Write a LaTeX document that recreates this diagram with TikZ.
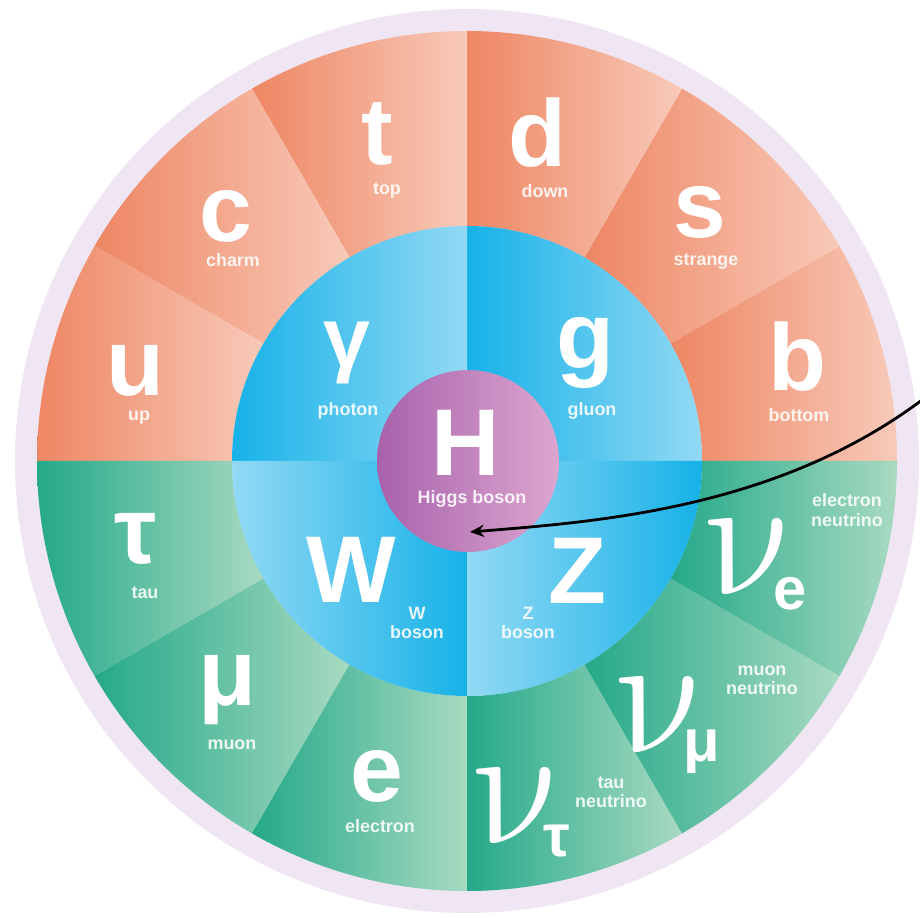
\documentclass[tikz,border=0pt]{standalone}
\usepackage{fontspec}
\usepackage{unicode-math}
\setmainfont{Liberation Sans}
\setmathfont{Latin Modern Math}
\usetikzlibrary{arrows.meta}
\definecolor{orD}{HTML}{EE8663}
\definecolor{orL}{HTML}{F8CAB9}
\definecolor{grD}{HTML}{24A989}
\definecolor{grL}{HTML}{A8DAC1}
\definecolor{blD}{HTML}{16B2E8}
\definecolor{blL}{HTML}{92D9F4}
\definecolor{puD}{HTML}{A862AC}
\definecolor{puL}{HTML}{DCA6CF}
\definecolor{lav}{HTML}{F0E6F3}
\newcommand{\nuglyph}{\scalebox{0.95}[1]{$\symup{\nu}$}}
\begin{document}
\begin{tikzpicture}[x=0.02cm,y=0.02cm,
  big/.style={text=white, font=\fontsize{54}{54}\selectfont\bfseries, inner sep=0pt},
  sub/.style={text=white, font=\fontsize{34}{34}\selectfont\bfseries, inner sep=0pt},
  nu/.style={text=white, font=\fontsize{98}{98}\selectfont, inner sep=0pt},
  lbl/.style={text=white, text opacity=0.88, font=\fontsize{10.2}{11}\selectfont\bfseries, inner sep=0pt, align=center},
  pointer/.style={line width=1.6pt, black, -{Stealth[length=8pt,width=7pt]}}]
\useasboundingbox (0,0) rectangle (920,-918);
\coordinate (C) at (467,-461);
\fill[lav] (C) circle[radius=452];
\begin{scope}[shift={(467,-461)}]
  \foreach \a in {0,30,...,150}{
    \shade[left color=orD, right color=orL] (\a:430) arc[start angle=\a, end angle=\a+30, radius=430]
      -- (\a+30:235) arc[start angle=\a+30, end angle=\a, radius=235] -- cycle;
  }
  \foreach \a in {180,210,...,330}{
    \shade[left color=grD, right color=grL] (\a:430) arc[start angle=\a, end angle=\a+30, radius=430]
      -- (\a+30:235) arc[start angle=\a+30, end angle=\a, radius=235] -- cycle;
  }
  \foreach \a in {0,90}{
    \shade[left color=blD, right color=blL] (0,0) -- (\a:235) arc[start angle=\a, end angle=\a+90, radius=235] -- cycle;
  }
  \foreach \a in {180,270}{
    \shade[left color=blL, right color=blD] (0,0) -- (\a:235) arc[start angle=\a, end angle=\a+90, radius=235] -- cycle;
  }
\end{scope}
\node[circle, minimum size=3.64cm, inner sep=0pt, left color=puD, right color=puL] (higgs) at (468,-461) {};
% quarks
\node[big] (u) at (135,-371) {u};
\node[lbl] (up) at (139,-418) {up};
\node[big] (c) at (226,-216) {c};
\node[lbl] (charm) at (233,-260) {charm};
\node[big] (t) at (377,-134) {t};
\node[lbl] (top) at (387,-191) {top};
\node[big] (d) at (537,-133) {d};
\node[lbl] (down) at (545,-191) {down};
\node[big] (s) at (700,-212) {s};
\node[lbl] (strange) at (706,-262) {strange};
\node[big] (b) at (797,-357) {b};
\node[lbl] (bottom) at (799,-415) {bottom};
% bosons
\node[big, font=\fontsize{48}{48}\selectfont\bfseries] (gam) at (347,-353) {γ};
\node[lbl] (photon) at (348,-411) {photon};
\node[big] (g) at (585,-353) {g};
\node[lbl] (gluon) at (592,-411) {gluon};
\node[big] (H) at (466,-443) {H};
\node[lbl] (hb) at (472,-499) {Higgs boson};
\node[big] (W) at (351,-570) {W};
\node[lbl] (wb) at (417,-623) {W\\boson};
\node[big] (Z) at (577,-571) {Z};
\node[lbl] (zb) at (528,-623) {Z\\boson};
% leptons
\node[big] (tau) at (136,-539) {τ};
\node[lbl] (taul) at (145,-593) {tau};
\node[big] (mu) at (228,-690) {μ};
\node[lbl] (muon) at (232,-745) {muon};
\node[big] (e) at (377,-776) {e};
\node[lbl] (electron) at (380,-826) {electron};
\node[nu] (nue) at (753,-556) {\nuglyph};
\node[sub] (nues) at (790,-594) {e};
\node[lbl] (nuel) at (847,-510) {electron\\neutrino};
\node[nu] (num) at (664,-714) {\nuglyph};
\node[sub] (nums) at (702,-752) {μ};
\node[lbl] (numl) at (762,-680) {muon\\neutrino};
\node[nu] (nut) at (521,-805) {\nuglyph};
\node[sub] (nuts) at (557,-841) {τ};
\node[lbl] (nutl) at (611,-792) {tau\\neutrino};
% pointer
\coordinate (src) at (922,-400);
\coordinate (htip) at (470,-532);
\draw[pointer] (src) .. controls (775,-510) and (593,-522) .. (htip);
\end{tikzpicture}
\end{document}
